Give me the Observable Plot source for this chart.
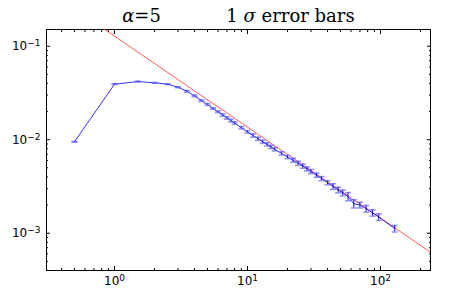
<!DOCTYPE html>
<html><head><meta charset="utf-8">
<script src="https://cdn.jsdelivr.net/npm/d3@7"></script>
<script src="https://cdn.jsdelivr.net/npm/@observablehq/plot@0.6"></script>
<style>body{margin:0;background:#fff}</style>
</head><body><div id="chart"></div>
<script>
const titleParts = ["α=5", "1 σ error bars"];
const xs = [0.5,1,1.5,2,2.5,3,3.5,4,4.5,5,5.5,6,6.5,7,7.5,8,9,10,11,12,13,14,15,16,18,20,22,24,26,28,30,33,36,40,44,48,52,57,63,70,78,87,97,128];
const ys = [0.0095,0.0393,0.0419,0.0406,0.0393,0.0364,0.0330,0.0294,0.0262,0.0238,0.0216,0.0199,0.0184,0.0171,0.0160,0.01507,0.01343,0.01213,0.01109,0.01023,0.00951,0.00891,0.00838,0.00791,0.00714,0.00653,0.00603,0.00560,0.00521,0.00488,0.00457,0.00417,0.00384,0.00347,0.00316,0.00290,0.00270,0.00247,0.00207,0.00200,0.00183,0.00165,0.00149,0.00112];
const errs = [0.0001,0.0004,0.0004,0.0004,0.0004,0.0004,0.0007,0.0006,0.0005,0.0005,0.0004,0.0004,0.00055,0.0005,0.00048,0.00045,0.0004,0.00036,0.00044,0.0004,0.00038,0.00036,0.00034,0.00032,0.00029,0.00026,0.0003,0.00028,0.00026,0.00024,0.00023,0.00021,0.00019,0.00017,0.00022,0.0002,0.00019,0.00025,0.00021,0.00014,0.00015,0.00013,0.00012,0.00009];
const fitX = [0.84, 237.7];
const fitY = [0.152, 0.000626];
const xMajor = [1, 10, 100];
const xMinor = [0.4,0.5,0.6,0.7,0.8,0.9,2,3,4,5,6,7,8,9,20,30,40,50,60,70,80,90,200];
const yMajor = [0.001, 0.01, 0.1];
const yMinor = [0.0004,0.0005,0.0006,0.0007,0.0008,0.0009,0.002,0.003,0.004,0.005,0.006,0.007,0.008,0.009,0.02,0.03,0.04,0.05,0.06,0.07,0.08,0.09];

const rows = xs.map((x, i) => ({x, y: ys[i], lo: ys[i] - errs[i], hi: ys[i] + errs[i]}));
const fit = fitX.map((x, i) => ({x, y: fitY[i]}));
const capSymbol = {draw(ctx, size) { const w = Math.sqrt(size / Math.PI); ctx.moveTo(-w, 0); ctx.lineTo(w, 0); }};
const expFmt = d => "10^" + Math.round(Math.log10(d));
const blank = () => "";

const chart = Plot.plot({
  width: 452, height: 290,
  marginLeft: 46, marginRight: 22, marginTop: 29, marginBottom: 20,
  style: {fontFamily: "DejaVu Sans", fontSize: "12px", color: "black", background: "white"},
  x: {type: "log", domain: [0.308, 237.7], label: null},
  y: {type: "log", domain: [0.000399, 0.151], label: null},
  marks: [
    Plot.frame({stroke: "black", strokeWidth: 1}),
    Plot.axisX(xMajor, {anchor: "bottom", tickSize: -4, tickPadding: 10, tickFormat: expFmt}),
    Plot.axisX(xMinor, {anchor: "bottom", tickSize: -2, tickFormat: blank}),
    Plot.axisX(xMajor, {anchor: "top", tickSize: -4, tickFormat: blank}),
    Plot.axisX(xMinor, {anchor: "top", tickSize: -2, tickFormat: blank}),
    Plot.axisY(yMajor, {anchor: "left", tickSize: -4, tickPadding: 10, tickFormat: expFmt}),
    Plot.axisY(yMinor, {anchor: "left", tickSize: -2, tickFormat: blank}),
    Plot.axisY(yMajor, {anchor: "right", tickSize: -4, tickFormat: blank}),
    Plot.axisY(yMinor, {anchor: "right", tickSize: -2, tickFormat: blank}),
    Plot.line(fit, {x: "x", y: "y", stroke: "#ff3030", strokeWidth: 0.8, clip: true}),
    Plot.line(rows, {x: "x", y: "y", stroke: "#0000ff", strokeWidth: 0.8}),
    Plot.ruleX(rows, {x: "x", y1: "lo", y2: "hi", stroke: "#0000ff", strokeWidth: 1}),
    Plot.dot(rows, {x: "x", y: "lo", symbol: capSymbol, r: 3, stroke: "#6060ff", strokeOpacity: 0.7, fill: "none"}),
    Plot.dot(rows, {x: "x", y: "hi", symbol: capSymbol, r: 3, stroke: "#6060ff", strokeOpacity: 0.7, fill: "none"}),
    Plot.text([titleParts[0]], {frameAnchor: "top", dx: -97, dy: -8, lineAnchor: "bottom", fontFamily: "DejaVu Serif", fontSize: 18, text: d => d}),
    Plot.text([titleParts[1]], {frameAnchor: "top", dx: 52, dy: -8, lineAnchor: "bottom", fontFamily: "DejaVu Serif", fontSize: 18, text: d => d})
  ]
});

// superscript exponents and italic Greek letters
d3.select(chart).selectAll("text").each(function() {
  const t = this.textContent;
  if (t.includes("^")) {
    const [base, exp] = t.split("^");
    this.textContent = "";
    d3.select(this).append("tspan").text(base);
    d3.select(this).append("tspan").attr("dy", "-0.45em").attr("font-size", "9px").text(exp.replace("-", "\u2212"));
  } else if (/[ασ]/.test(t)) {
    this.textContent = "";
    const parts = t.split(/([ασ])/);
    parts.forEach(p => { if (p) d3.select(this).append("tspan").attr("font-style", /[ασ]/.test(p) ? "italic" : null).text(p); });
  }
});
document.getElementById("chart").appendChild(chart);
</script>
</body></html>
